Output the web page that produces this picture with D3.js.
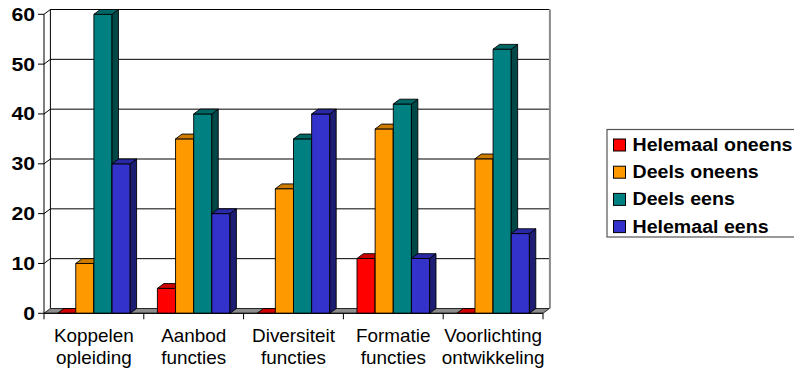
<!DOCTYPE html>
<html>
<head>
<meta charset="utf-8">
<script src="https://cdn.jsdelivr.net/npm/d3@7"></script>
<style>
  html, body { margin: 0; padding: 0; background: #fff; }
  svg { display: block; font-family: "Liberation Sans", Arial, sans-serif; }
</style>
</head>
<body>
<svg id="chart" width="794" height="372"></svg>
<script>
// Survey answers per theme (percentages)
const categories = [
  ["Koppelen", "opleiding"],
  ["Aanbod", "functies"],
  ["Diversiteit", "functies"],
  ["Formatie", "functies"],
  ["Voorlichting", "ontwikkeling"]
];
const seriesNames = ["Helemaal oneens", "Deels oneens", "Deels eens", "Helemaal eens"];
const helemaalOneens = [0, 5, 0, 11, 0];
const deelsOneens = [10, 35, 25, 37, 31];
const deelsEens = [60, 40, 35, 42, 53];
const helemaalEens = [30, 20, 40, 11, 16];
const seriesValues = [helemaalOneens, deelsOneens, deelsEens, helemaalEens];
const yTicks = [0, 10, 20, 30, 40, 50, 60];

const colors = ["#ff0000", "#ff9900", "#008080", "#3333cc"];
const topColors = colors.map(c => d3.color(c).darker(0.6).formatHex());
const sideColors = colors.map(c => d3.color(c).darker(1.6).formatHex());

const svg = d3.select("#chart");

// depth offset of the 3D box
const DX = 6.4, DY = -4.8;
const x0 = 44, x1 = 543;

const y = d3.scaleLinear().domain([0, 60]).range([313.3, 14.3]);
const catKeys = categories.map(c => c.join(" "));
const xCat = d3.scaleBand().domain(catKeys).range([x0, x1]);
const xSer = d3.scaleBand().domain(seriesNames).range([0, xCat.bandwidth()])
  .paddingInner(0).paddingOuter(0.75);

// horizontally stretched text helper
function stretchedText(g, x, yy, txt, opts) {
  return g.append("g").attr("transform", `translate(${x},${yy}) scale(${opts.sx || 1},1)`)
    .append("text")
    .attr("text-anchor", opts.anchor || "start")
    .attr("font-size", opts.size)
    .attr("font-weight", opts.weight || "normal")
    .attr("fill", "#000")
    .text(txt);
}

// back wall gridlines with their left-wall diagonals
const grid = svg.append("g");
yTicks.forEach(v => {
  const yf = y(v), yb = yf + DY;
  if (v > 0) {
    grid.append("path")
      .attr("d", `M${x0},${yf}L${x0 + DX},${yb}L${x1 + DX},${yb}`)
      .attr("fill", "none").attr("stroke", "#000").attr("stroke-width", 1);
  }
});
// back-left edge
grid.append("line")
  .attr("x1", x0 + DX).attr("x2", x0 + DX)
  .attr("y1", y(60) + DY).attr("y2", y(0) + DY)
  .attr("stroke", "#000");
// right edge of back wall
grid.append("line")
  .attr("x1", x1 + DX + 0.5).attr("x2", x1 + DX + 0.5)
  .attr("y1", y(60) + DY).attr("y2", y(0) + DY)
  .attr("stroke", "#8a8a8a").attr("stroke-width", 2);

// floor
svg.append("path")
  .attr("d", `M${x0},${y(0)}L${x0 + DX},${y(0) + DY}L${x1 + DX},${y(0) + DY}L${x1},${y(0)}Z`)
  .attr("fill", "#8c8c8c").attr("stroke", "#000").attr("stroke-width", 0.8);

// bars: front face, side face, top face
const bars = svg.append("g");
catKeys.forEach((ck, ci) => {
  seriesNames.forEach((sn, si) => {
    const v = seriesValues[si][ci];
    const bx = xCat(ck) + xSer(sn);
    const bw = xSer.bandwidth();
    const top = y(v), base = y(0);
    const g = bars.append("g").attr("stroke", "#000").attr("stroke-width", 0.9)
      .attr("stroke-linejoin", "round");
    if (v > 0) {
      g.append("rect").attr("x", bx).attr("y", top).attr("width", bw).attr("height", base - top)
        .attr("fill", colors[si]);
      g.append("path")
        .attr("d", `M${bx + bw},${top}L${bx + bw + DX},${top + DY}L${bx + bw + DX},${base + DY}L${bx + bw},${base}Z`)
        .attr("fill", sideColors[si]);
    }
    g.append("path")
      .attr("d", `M${bx},${top}L${bx + DX},${top + DY}L${bx + bw + DX},${top + DY}L${bx + bw},${top}Z`)
      .attr("fill", topColors[si]);
  });
});

// front axes
const axes = svg.append("g").attr("stroke", "#000").attr("stroke-width", 1);
axes.append("line").attr("x1", x0).attr("x2", x0).attr("y1", y(60)).attr("y2", y(0));
axes.append("line").attr("x1", x0).attr("x2", x1).attr("y1", y(0)).attr("y2", y(0));
yTicks.forEach(v => {
  axes.append("line").attr("x1", x0 - 6).attr("x2", x0).attr("y1", y(v)).attr("y2", y(v));
});
const catEdges = catKeys.map(k => xCat(k)).concat([x1]);
catEdges.forEach(xe => {
  axes.append("line").attr("x1", xe).attr("x2", xe).attr("y1", y(0)).attr("y2", y(0) + 6);
});

// y tick labels
const yLab = svg.append("g");
yTicks.forEach(v => {
  stretchedText(yLab, 35, y(v) + 6.5, String(v), { size: 18, weight: "bold", anchor: "end", sx: 1.18 });
});

// category labels
const cLab = svg.append("g");
categories.forEach((lines, i) => {
  const cx = xCat(catKeys[i]) + xCat.bandwidth() / 2;
  lines.forEach((ln, j) => {
    stretchedText(cLab, cx, 341.5 + j * 22, ln, { size: 17.5, anchor: "middle", sx: 1.08 });
  });
});

// legend
const leg = svg.append("g");
leg.append("rect").attr("x", 607).attr("y", 129.5).attr("width", 200).attr("height", 107.5)
  .attr("fill", "#fff").attr("stroke", "#555").attr("stroke-width", 1.2);
seriesNames.forEach((sn, i) => {
  const cy = 145 + i * 27.2;
  leg.append("rect").attr("x", 613.5).attr("y", cy - 6).attr("width", 12).attr("height", 12)
    .attr("fill", colors[i]).attr("stroke", "#000").attr("stroke-width", 1);
  stretchedText(leg, 632.5, cy + 6, sn, { size: 17.5, weight: "bold", anchor: "start", sx: 1.12 });
});
</script>
</body>
</html>
